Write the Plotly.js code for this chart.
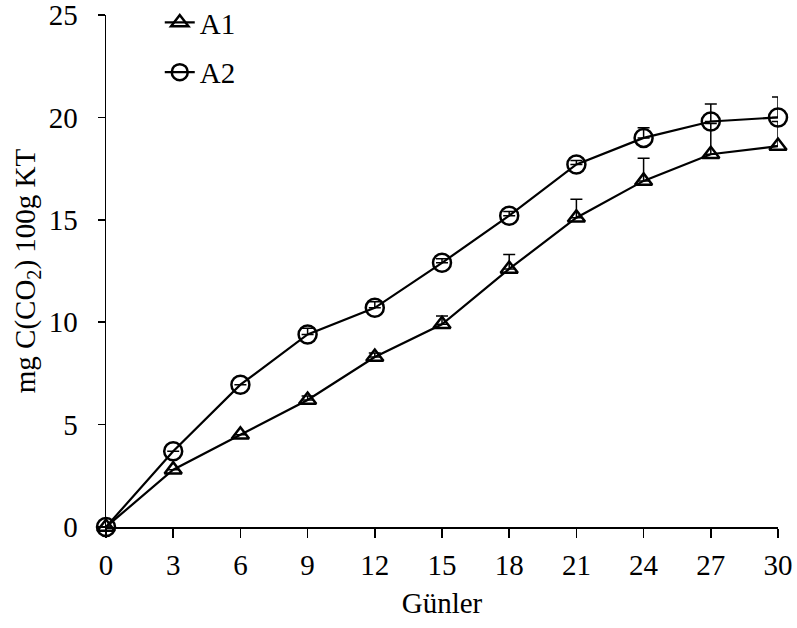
<!DOCTYPE html>
<html>
<head>
<meta charset="utf-8">
<script src="https://cdn.plot.ly/plotly-3.0.1.min.js"></script>
<style>html,body{margin:0;padding:0;background:#fff;}#chart{width:797px;height:628px;}</style>
</head>
<body>
<div id="chart"></div>
<script>
const days = [0, 3, 6, 9, 12, 15, 18, 21, 24, 27, 30];
const a1 = [0, 2.8, 4.5, 6.2, 8.3, 9.9, 12.6, 15.1, 16.9, 18.2, 18.6];
const a2 = [0, 3.7, 6.95, 9.4, 10.7, 12.9, 15.2, 17.7, 19.0, 19.8, 20.0];
const a1Err = [0, 0, 0, 0.2, 0.2, 0.4, 0.7, 0.9, 1.1, 1.5, 1.2];
const a2Err = [0, 0, 0, 0.3, 0.3, 0.2, 0.2, 0.2, 0.5, 0.85, 1.0];
const xTicks = days;
const yTicks = [0, 5, 10, 15, 20, 25];
const seriesNames = ["A1", "A2"];
const xTitle = "Günler";
const yTitle = "mg C(CO<sub>2</sub>) 100g KT";

const FONT = "Liberation Serif, Times New Roman, serif";
const FS = 29;
const zeros = days.map(() => 0);

function trace(name, y, err, symbol, size, group) {
  return {
    x: days, y: y, name: name, type: "scatter", mode: "lines+markers",
    legendgroup: group, cliponaxis: false,
    line: {color: "#000", width: 2.2},
    marker: {symbol: symbol, size: size, color: "#000", line: {color: "#000", width: 2.5}},
    error_y: {type: "data", array: err, arrayminus: zeros, symmetric: false,
              color: "#000", thickness: 1.5, width: 6}
  };
}

const data = [
  trace(seriesNames[0], a1, a1Err, "triangle-up-open", 15, "g1"),
  trace(seriesNames[1], a2, a2Err, "circle-open", 18, "g2")
];

const layout = {
  width: 797, height: 628,
  margin: {l: 106, r: 19, t: 15, b: 101, autoexpand: false},
  paper_bgcolor: "#fff", plot_bgcolor: "#fff",
  font: {family: FONT, size: FS, color: "#000"},
  showlegend: true,
  legend: {x: 0.08, y: 1.035, xanchor: "left", yanchor: "top",
           bgcolor: "rgba(0,0,0,0)", font: {family: FONT, size: FS, color: "#000"},
           tracegroupgap: 9, traceorder: "grouped"},
  xaxis: {
    range: [0, 30], tickvals: xTicks, ticktext: xTicks.map(String),
    showgrid: false, zeroline: false, showline: true, linecolor: "#000", linewidth: 1.5,
    ticks: "outside", ticklen: 9, tickwidth: 1.5, tickcolor: "#000",
    ticklabelstandoff: 3, automargin: false, ticklabeloverflow: "allow",
    tickfont: {family: FONT, size: FS, color: "#000"},
    title: {text: xTitle, font: {family: FONT, size: FS, color: "#000"}, standoff: 12}
  },
  yaxis: {
    range: [0, 25], tickvals: yTicks, ticktext: yTicks.map(String),
    showgrid: false, zeroline: false, showline: true, linecolor: "#000", linewidth: 1.5,
    ticks: "outside", ticklen: 7, tickwidth: 1.5, tickcolor: "#000",
    ticklabelstandoff: 14, automargin: false, ticklabeloverflow: "allow",
    tickfont: {family: FONT, size: FS, color: "#000"},
    title: {text: yTitle, font: {family: FONT, size: FS, color: "#000"}, standoff: 4}
  }
};

Plotly.newPlot("chart", data, layout, {displayModeBar: false, staticPlot: true});
</script>
</body>
</html>
